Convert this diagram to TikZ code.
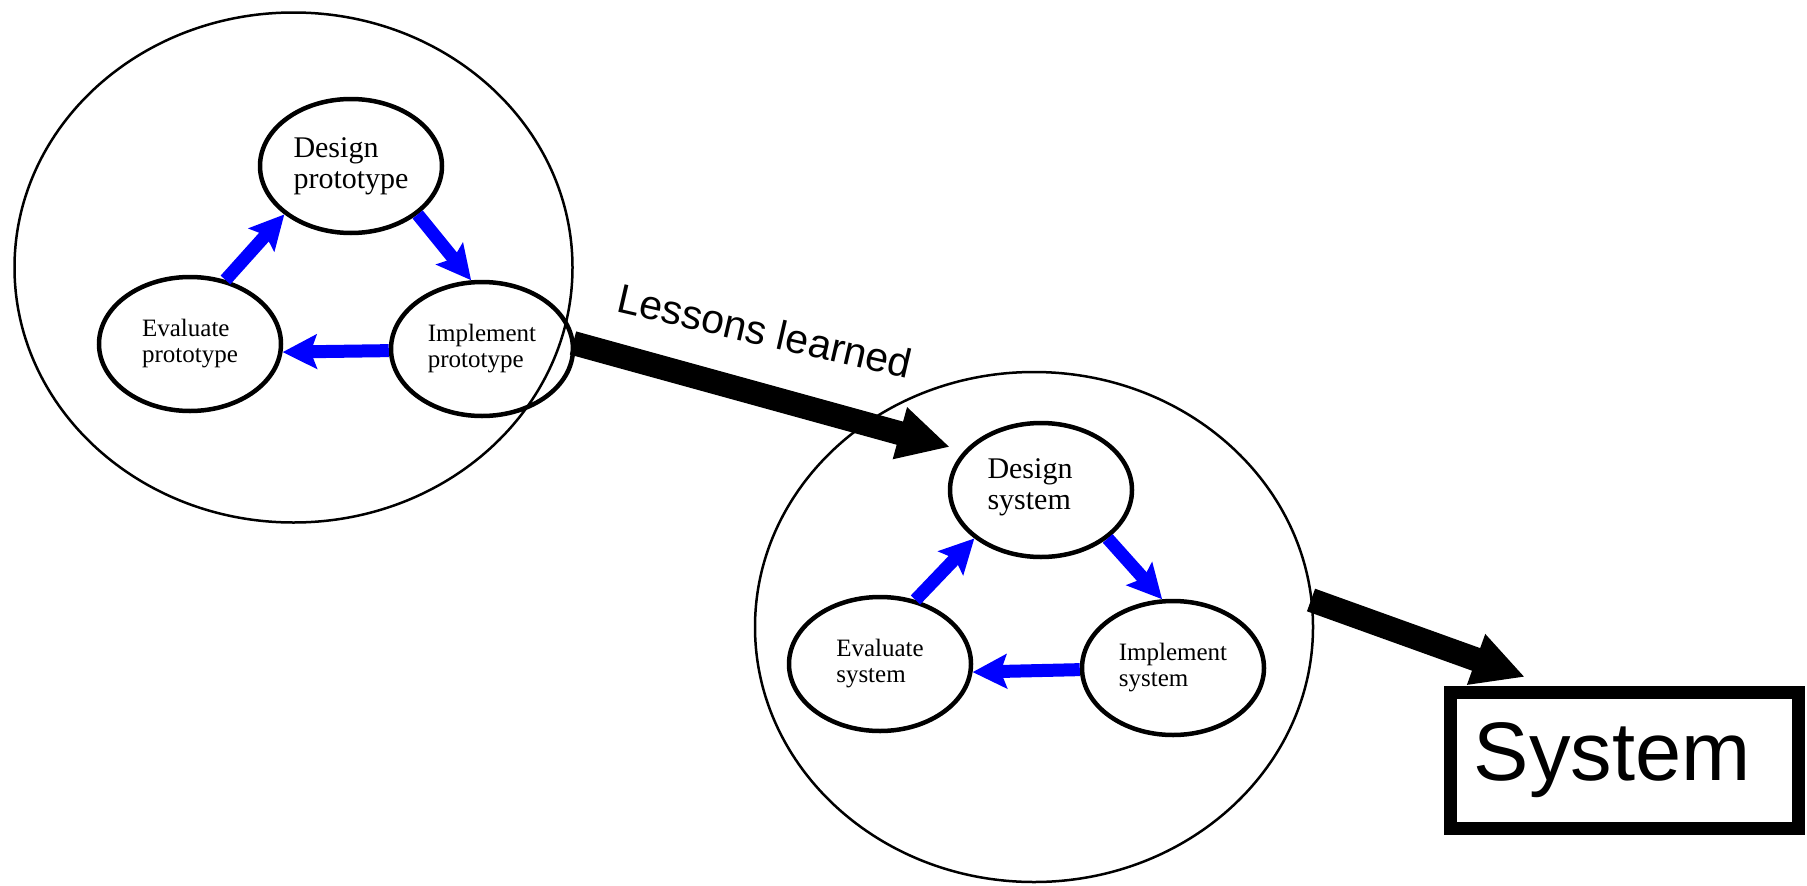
\documentclass[tikz,border=0pt]{standalone}
\usepackage{fontspec}
\setmainfont{Liberation Serif}
\newfontfamily\arialfont{Liberation Sans}
\usetikzlibrary{arrows.meta,shapes.geometric}
\begin{document}
\begin{tikzpicture}[x=1pt,y=-1pt,
  bigcirc/.style={ellipse, draw, line width=2.5pt, minimum width=558pt, minimum height=510pt, inner sep=0pt},
  phase/.style={ellipse, draw, line width=4.5pt, minimum width=182pt, minimum height=134pt, inner sep=0pt, align=left},
  bigtxt/.style={font=\fontsize{30}{31}\selectfont},
  smalltxt/.style={font=\fontsize{25}{26}\selectfont},
  cyc/.style={draw=blue, fill=blue, line width=13pt, -{Stealth[length=34pt,width=34pt,inset=6pt]}},
  flow/.style={draw=black, line width=24pt, -{Triangle[length=52pt,width=50pt]}},
  sysbox/.style={draw, line width=13pt, minimum width=348pt, minimum height=136pt, inner sep=0pt},
  systxt/.style={font=\arialfont\fontsize{83}{90}\selectfont, inner sep=0pt},
  lesson/.style={font=\arialfont\fontsize{41}{41}\selectfont, inner sep=0pt}
]
\useasboundingbox (0,0) rectangle (1807,886);
\fill[white] (0,0) rectangle (1807,886);

% big circles
\node[bigcirc] (c1) at (293.5,267.5) {};
\node[bigcirc] (c2) at (1034,627) {};

% prototype cycle
\node[phase,bigtxt] (dp) at (351,166) {Design\\prototype};
\node[phase,smalltxt] (ep) at (190,344) {Evaluate\\prototype};
\node[phase,smalltxt] (ip) at (482,349) {Implement\\prototype};
\draw[cyc] (ep.61.5) -- (dp.216);
\draw[cyc] (dp.-36) -- (ip.99);
\draw[cyc] (ip.181) -- (ep.-5);

% system cycle
\node[phase] (ds) at (1041,490) {};
\node[bigtxt, align=left, inner sep=0pt] (dst) at (1030,487) {Design\\system};
\node[phase,smalltxt] (es) at (880,664) {Evaluate\\system};
\node[phase,smalltxt] (is) at (1173,668) {Implement\\system};
\draw[cyc] (es.61.5) -- (ds.216);
\draw[cyc] (ds.-36) -- (is.99);
\draw[cyc] (is.181) -- (es.-5);

% lessons learned arrow
\coordinate (lt) at (573,343);
\coordinate (lh) at (950,447);
\draw[flow] (lt) -- (lh);
\node[lesson, rotate=-13] (ll) at (765,331) {Lessons learned};

% system
\node[sysbox] (sys) at (1624.5,760.5) {};
\node[systxt] (syst) at (1612,760) {System};
\coordinate (st) at (1311,600);
\coordinate (sh) at (1525,677);
\draw[flow] (st) -- (sh);
\end{tikzpicture}
\end{document}
